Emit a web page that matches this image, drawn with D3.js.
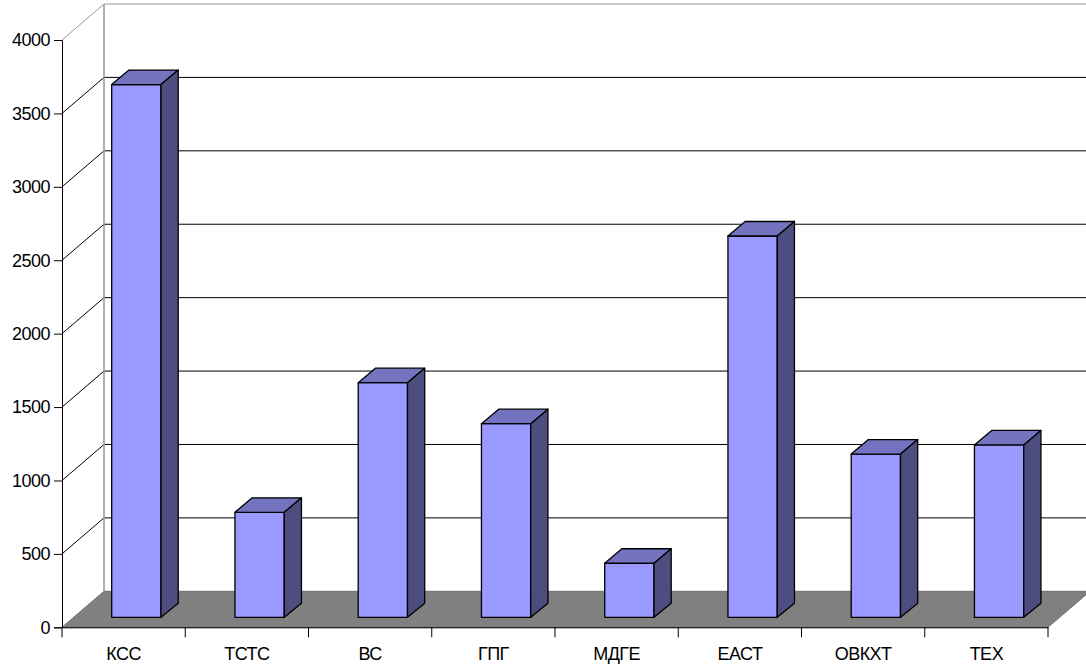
<!DOCTYPE html>
<html lang="ru">
<head>
<meta charset="UTF-8">
<title>Bar chart</title>
<script src="https://d3js.org/d3.v7.min.js"></script>
<style>
  html, body { margin: 0; padding: 0; background: #fff; overflow: hidden; }
  svg { display: block; }
  text { font-family: "Liberation Sans", Arial, sans-serif; fill: #000; }
</style>
</head>
<body>
<script>
// values
const categories = ["КСС", "ТСТС", "ВС", "ГПГ", "МДГЕ", "ЕАСТ", "ОВКХТ", "ТЕХ"];
const values = [3628, 715, 1598, 1319, 368, 2597, 1112, 1174];
const yTicks = [0, 500, 1000, 1500, 2000, 2500, 3000, 3500, 4000];

const width = 1086, height = 667;
const left = 62, right = 1048, y0 = 627.3, yTop = 40;
// wall depth and bar depth of the fake 3d
const wallX = 42, wallY = 36;
const barX = 17.2, barY = 14.5;

const x = d3.scaleBand().domain(categories).range([left, right]);
const y = d3.scaleLinear().domain([0, 4000]).range([y0, yTop]);

const svg = d3.select("body").append("svg")
  .attr("width", width)
  .attr("height", height);

// floor
svg.append("polygon")
  .attr("points", [[left, y0], [right, y0], [right + wallX, y0 - wallY], [left + wallX, y0 - wallY]].join(" "))
  .attr("fill", "#808080")
  .attr("stroke", "#6e6e6e");

// gridlines run up the side wall and along the back wall
svg.selectAll(".grid")
  .data(yTicks.filter(d => d > 0))
  .enter()
  .append("polyline")
  .attr("class", "grid")
  .attr("fill", "none")
  .attr("stroke", d => d === 4000 ? "#969696" : "#000")
  .attr("points", d => [[left, y(d)], [left + wallX, y(d) - wallY], [width + 2, y(d) - wallY]].join(" "));

// back wall edge
svg.append("line")
  .attr("x1", left + wallX).attr("x2", left + wallX)
  .attr("y1", y(4000) - wallY).attr("y2", y0 - wallY)
  .attr("stroke", "#969696")
  .attr("stroke-width", 1.5);

// axes
const yAxis = svg.append("g")
  .attr("transform", `translate(${left},0)`)
  .call(d3.axisLeft(y).tickValues(yTicks).tickSize(8).tickPadding(4).tickFormat(d3.format("d")));
const xAxis = svg.append("g")
  .attr("transform", `translate(0,${y0})`)
  .call(d3.axisBottom(x).tickSize(0).tickPadding(20));

// band edges carry the ticks, labels stay centred
xAxis.selectAll(".edge")
  .data(d3.range(categories.length + 1))
  .enter()
  .append("line")
  .attr("class", "edge")
  .attr("x1", i => left + i * x.step())
  .attr("x2", i => left + i * x.step())
  .attr("y1", 0)
  .attr("y2", 10)
  .attr("stroke", "#000");

svg.selectAll(".tick text")
  .attr("font-size", 18)
  .style("font-family", '"Liberation Sans", Arial, sans-serif')
  .attr("letter-spacing", "-0.5");

// bars
const barW = x.bandwidth() * 0.4;
const bars = svg.selectAll(".bar")
  .data(categories.map((c, i) => ({ c, v: values[i] })))
  .enter()
  .append("g")
  .attr("class", "bar")
  .attr("stroke", "#000")
  .attr("stroke-width", 1.3)
  .attr("stroke-linejoin", "round");

const bx = d => x(d.c) + x.bandwidth() * 0.4 + 0.4;
const base = y(0) - 10;
const by = d => base - (y(0) - y(d.v));

bars.append("rect")
  .attr("x", bx)
  .attr("y", by)
  .attr("width", barW)
  .attr("height", d => base - by(d))
  .attr("fill", "#9999ff");

// top face
bars.append("polygon")
  .attr("fill", "#7373bf")
  .attr("points", d => [
    [bx(d), by(d)],
    [bx(d) + barW, by(d)],
    [bx(d) + barW + barX, by(d) - barY],
    [bx(d) + barX, by(d) - barY]
  ].join(" "));

// side face
bars.append("polygon")
  .attr("fill", "#4d4d80")
  .attr("points", d => [
    [bx(d) + barW, by(d)],
    [bx(d) + barW + barX, by(d) - barY],
    [bx(d) + barW + barX, base - 14],
    [bx(d) + barW, base]
  ].join(" "));
</script>
</body>
</html>
